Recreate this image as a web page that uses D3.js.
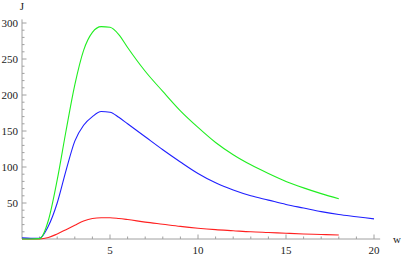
<html>
<head>
<script src="https://d3js.org/d3.v7.min.js"></script>
<style>
body { margin: 0; background: #fff; }
svg { display: block; }
text { font-family: "Liberation Serif", "DejaVu Serif", serif; font-size: 11px; fill: #222; }
</style>
</head>
<body>
<div id="chart"></div>
<script type="text/javascript">

// sample points (w) for each curve
var wShort = [0, 0.5, 1, 1.5, 2, 2.5, 3, 3.5, 4, 4.5, 5, 5.5, 6, 7, 8, 9, 10, 11, 12, 13, 14, 15, 16, 17, 18];
var wLong = wShort.concat([19, 20]);

// J values
var greenJ = [0, 0, 0.5, 26, 82, 150, 214, 262, 287, 295, 294, 284, 266, 233, 205, 178, 155, 134, 117, 103, 91, 80, 71, 63, 56];
var blueJ = [1.5, 1, 1, 18, 50, 95, 136, 158, 170, 177, 176, 169, 160, 142, 124, 107, 91, 78, 68, 60, 54, 48, 43, 38, 34, 31, 28];
var redJ = [0, 0, 0, 2, 7, 13, 19, 25, 28.5, 29.5, 29.5, 28.5, 27, 23.5, 20.5, 17.5, 15, 13, 11.5, 10, 9, 8, 7, 6.3, 5.5];

var xMajor = [5, 10, 15, 20];
var yMajor = [50, 100, 150, 200, 250, 300];

var width = 401, height = 257;

var x = d3.scaleLinear().domain([0, 20]).range([22, 374]);
var y = d3.scaleLinear().domain([0, 300]).range([239, 23]);

var svg = d3.select("#chart").append("svg")
	.attr("width", width)
	.attr("height", height);

var axisColor = "#a0a0a0";

// x axis
svg.append("line")
	.attr("x1", x(0)).attr("x2", x(20.35))
	.attr("y1", y(0)).attr("y2", y(0))
	.style("stroke", axisColor);

svg.selectAll(".xminor")
	.data(d3.range(1, 21))
	.enter().append("line")
	.attr("x1", function(d) { return x(d); })
	.attr("x2", function(d) { return x(d); })
	.attr("y1", y(0))
	.attr("y2", function(d) { return y(0) - (d % 5 == 0 ? 4.5 : 2.5); })
	.style("stroke", axisColor);

svg.selectAll(".xlabel")
	.data(xMajor)
	.enter().append("text")
	.attr("x", function(d) { return x(d); })
	.attr("y", 254)
	.attr("text-anchor", "middle")
	.text(function(d) { return d; });

// y axis
svg.append("line")
	.attr("x1", x(0)).attr("x2", x(0))
	.attr("y1", y(0)).attr("y2", y(305))
	.style("stroke", axisColor);

svg.selectAll(".yminor")
	.data(d3.range(10, 301, 10))
	.enter().append("line")
	.attr("x1", x(0))
	.attr("x2", function(d) { return x(0) + (d % 50 == 0 ? 4.5 : 2.5); })
	.attr("y1", function(d) { return y(d); })
	.attr("y2", function(d) { return y(d); })
	.style("stroke", axisColor);

svg.selectAll(".ylabel")
	.data(yMajor)
	.enter().append("text")
	.attr("x", 18)
	.attr("y", function(d) { return y(d) + 4; })
	.attr("text-anchor", "end")
	.text(function(d) { return d; });

// axis names
svg.append("text").attr("x", 22).attr("y", 10).attr("text-anchor", "middle").text("J");
svg.append("text").attr("x", 397).attr("y", 243).attr("text-anchor", "middle").text("w");

// curves
var line = d3.line()
	.x(function(d) { return x(d[0]); })
	.y(function(d) { return y(d[1]); })
	.curve(d3.curveMonotoneX);

var series = [
	{ w: wShort, j: redJ, color: "#ff2020" },
	{ w: wLong, j: blueJ, color: "#2020ff" },
	{ w: wShort, j: greenJ, color: "#20ee20" }
];

series.forEach(function(s) {
	svg.append("path")
		.datum(d3.zip(s.w, s.j))
		.attr("d", line)
		.style("fill", "none")
		.style("stroke", s.color)
		.style("stroke-width", 1.1);
});

</script>
</body>
</html>
